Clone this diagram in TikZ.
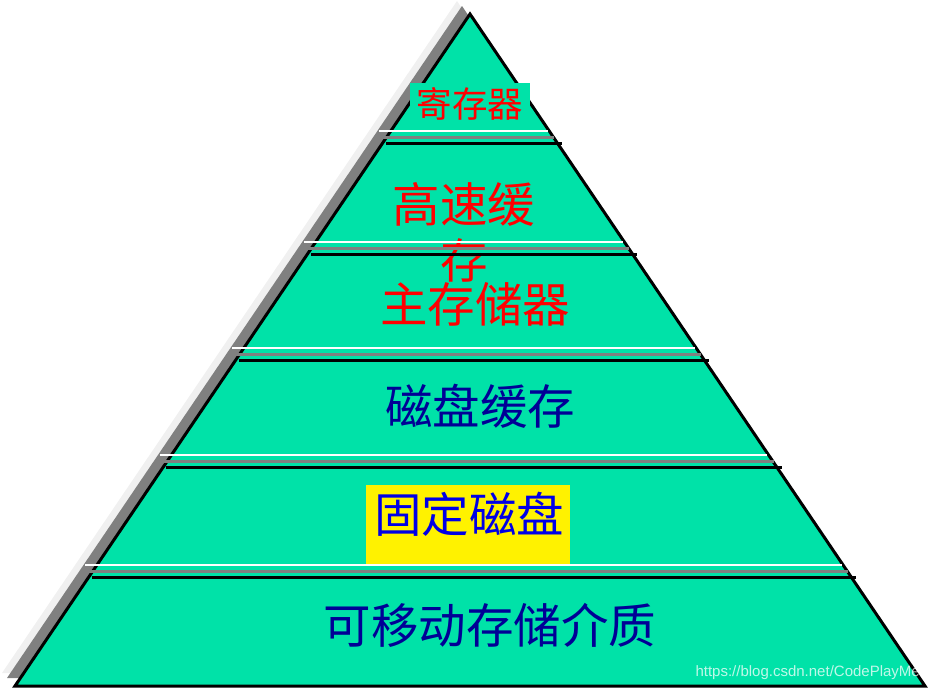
\documentclass[tikz,border=0pt]{standalone}
\usepackage{fontspec}
\newfontfamily\song{Noto Sans CJK SC}
\setsansfont{Liberation Sans}
\definecolor{teal1}{RGB}{0,226,168}
\definecolor{navy1}{RGB}{0,0,150}
\definecolor{blue1}{RGB}{0,0,230}
\definecolor{shadowgray}{RGB}{128,128,128}
\definecolor{shadowlight}{RGB}{240,240,240}
\tikzset{
  layertext/.style={inner sep=0pt, anchor=center, font=\song\fontsize{47.5}{56}\selectfont},
  sepwhite/.style={draw=white, line width=2.8pt},
  sepgray/.style={draw=shadowgray, line width=2.8pt},
  sepblack/.style={draw=black, line width=3.2pt},
}
\begin{document}
\begin{tikzpicture}[x=1pt,y=-1pt]
\useasboundingbox (0,0) rectangle (930,689);
% shadows
\fill[shadowlight] (457,1) -- (2,673) -- (912,673) -- cycle;
\fill[shadowgray] (462,6) -- (7,678) -- (917,678) -- cycle;
% pyramid
\filldraw[fill=teal1, draw=black, line width=3pt, line join=miter] (470,14) -- (15,686) -- (925,686) -- cycle;
% text boxes
\node[fill=teal1, minimum width=120pt, minimum height=47pt, inner sep=0pt] (bregs) at (470,106.5) {};
\node[text=red, inner sep=0pt, font=\song\fontsize{35.5}{40}\selectfont] (regs) at (470,104) {寄存器};
\node[layertext, text=red, align=center] (cache) at (464,232) {高速缓\\存};
\node[layertext, text=red] (mem) at (475,304) {主存储器};
\node[layertext, text=navy1] (dcache) at (480,406) {磁盘缓存};
\node[fill=yellow, minimum width=204pt, minimum height=79pt, inner sep=0pt] (bdisk) at (468,524.5) {};
\node[layertext, text=blue1] (disk) at (469,514) {固定磁盘};
\node[layertext, text=navy1] (media) at (490,625) {可移动存储介质};
% separators
\foreach \y in {131,242,348,455,565}{
  \draw[sepwhite] ({15+0.6781*(686-\y)-12},\y) -- ({925-0.6781*(686-\y)-1},\y);
  \draw[sepgray] ({15+0.6781*(686-\y-6.5)-4},\y+6.5) -- ({925-0.6781*(686-\y-6.5)+1},\y+6.5);
  \draw[sepblack] ({15+0.6781*(686-\y-12.5)+3},\y+12.5) -- ({925-0.6781*(686-\y-12.5)+5},\y+12.5);
}
% watermark
\node[anchor=base east, inner sep=0pt, text=white, opacity=0.75, font=\sffamily\fontsize{15}{18}\selectfont] (wm) at (920,676) {https://blog.csdn.net/CodePlayMe};
\end{tikzpicture}
\end{document}
